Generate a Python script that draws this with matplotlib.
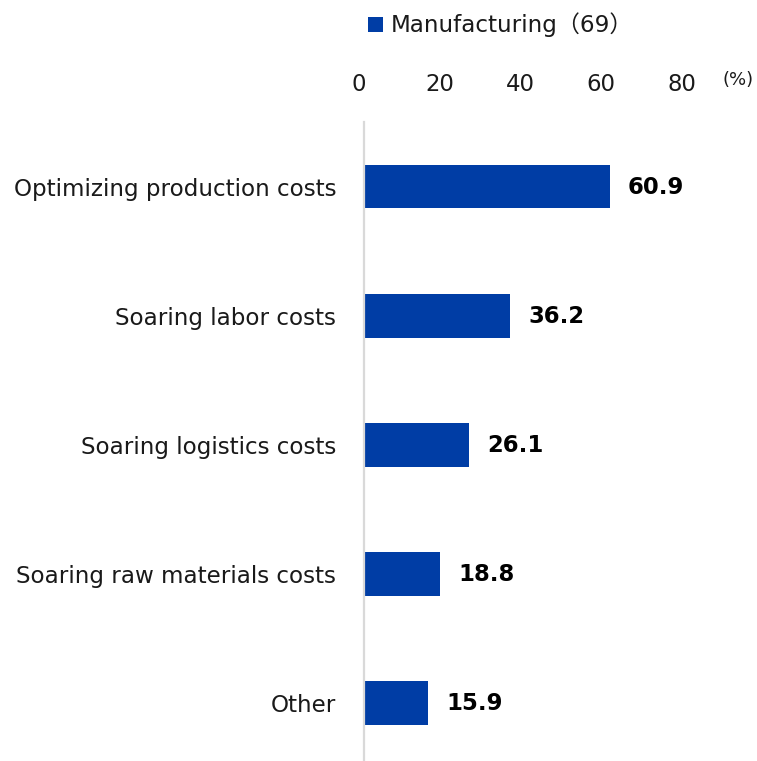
import matplotlib
matplotlib.use("Agg")
import matplotlib.pyplot as plt
import matplotlib.transforms as mtransforms
from matplotlib.font_manager import FontProperties

plt.rcParams["font.family"] = ["DejaVu Sans", "Noto Sans CJK JP"]

# Survey result: reasons given by manufacturing firms (share of respondents, %)
categories = [
    "Optimizing production costs",
    "Soaring labor costs",
    "Soaring logistics costs",
    "Soaring raw materials costs",
    "Other",
]
values = [60.9, 36.2, 26.1, 18.8, 15.9]
series_label = "Manufacturing（69）"
x_ticks = [0, 20, 40, 60, 80]

BAR_COLOR = "#003DA5"
TEXT_COLOR = "#1a1a1a"

W, H = 757, 761
fig = plt.figure(figsize=(W / 100, H / 100), dpi=100)
ax = fig.add_axes([364 / W, 0, (687 - 364) / W, 1 - 122 / H])

y = list(range(len(categories)))
ax.barh(y, values, height=0.34, color=BAR_COLOR, label=series_label, zorder=2)

for yi, v in zip(y, values):
    ax.annotate(f"{v:.1f}", (v, yi), xytext=(18, -1), textcoords="offset pixels",
                ha="left", va="center", fontsize=16.4, fontweight="bold", color="black")

ax.set_xlim(0, 80)
ax.set_ylim(4.45, -0.5)
ax.set_yticks(y)
ax.set_yticklabels(categories, fontsize=16.6, color=TEXT_COLOR)
ax.set_xticks(x_ticks)
ax.set_xticklabels([str(t) for t in x_ticks], fontsize=16.4, color=TEXT_COLOR)
ax.xaxis.tick_top()
ax.tick_params(axis="x", length=0, pad=19)
ax.tick_params(axis="y", length=0, pad=20)

# nudge the percent labels a little to the left
shift = mtransforms.ScaledTranslation(-5 / 100, 0, fig.dpi_scale_trans)
for lab in ax.get_xticklabels():
    lab.set_transform(lab.get_transform() + shift)

for side in ["top", "right", "bottom"]:
    ax.spines[side].set_visible(False)
ax.spines["left"].set_color("#d9d9d9")
ax.spines["left"].set_linewidth(1.6)

fig.text(723 / W, 1 - 80 / H, "(%)", fontsize=13, color=TEXT_COLOR,
         ha="left", va="center")

fig.legend(loc="center left", bbox_to_anchor=(368 / W, 1 - 25 / H),
           frameon=False, borderpad=0, borderaxespad=0,
           handlelength=0.65, handleheight=0.65, handletextpad=0.35,
           prop=FontProperties(family=["DejaVu Sans", "Noto Sans CJK JP"], size=16.6),
           labelcolor=TEXT_COLOR)

fig.savefig("out.png", dpi=100)
